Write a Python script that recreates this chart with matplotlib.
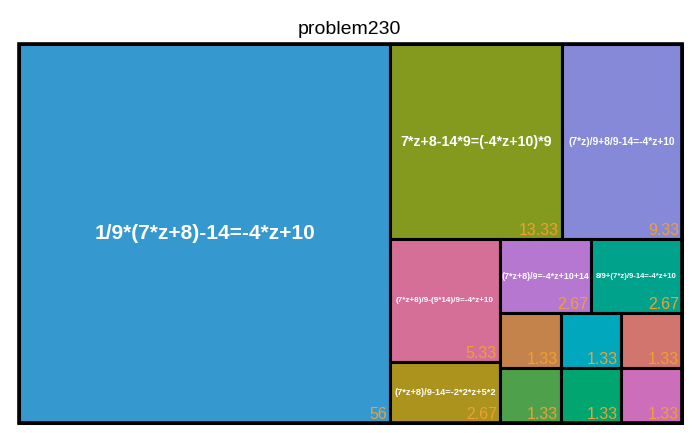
import matplotlib
matplotlib.use("Agg")
import matplotlib.pyplot as plt
from matplotlib.patches import Rectangle

plt.rcParams["font.family"] = ["Liberation Sans", "DejaVu Sans"]

# values
labels = [
    "1/9*(7*z+8)-14=-4*z+10",
    "7*z+8-14*9=(-4*z+10)*9",
    "(7*z)/9+8/9-14=-4*z+10",
    "(7*z+8)/9-(9*14)/9=-4*z+10",
    "(7*z+8)/9-14=-2*2*z+5*2",
    "(7*z+8)/9=-4*z+10+14",
    "8/9+(7*z)/9-14=-4*z+10",
    "", "", "", "", "", "",
]
values = [56, 13.33, 9.33, 5.33, 2.67, 2.67, 2.67, 1.33, 1.33, 1.33, 1.33, 1.33, 1.33]
value_text = ["56", "13.33", "9.33", "5.33", "2.67", "2.67", "2.67",
              "1.33", "1.33", "1.33", "1.33", "1.33", "1.33"]

colors = ["#3598CE", "#839A1F", "#8589D7", "#D56F97", "#AC931E", "#B677D1",
          "#00A28C", "#C4834A", "#4FA04A", "#00A7BD", "#00A56F", "#D2756F", "#CC6EBA"]
label_sizes = [15, 10.2, 7.4, 5.9, 6.7, 6.4, 5.6, 0, 0, 0, 0, 0, 0]

W, H = 663.0, 379.0


def worst(row, short):
    s = sum(row)
    return max(max(short * short * r / (s * s), (s * s) / (short * short * r)) for r in row)


def squarify(sizes, x, y, w, h):
    rects = []
    sizes = list(sizes)
    while sizes:
        short = min(w, h)
        row = [sizes[0]]
        i = 1
        while i < len(sizes) and worst(row + [sizes[i]], short) <= worst(row, short):
            row.append(sizes[i])
            i += 1
        s = sum(row)
        if w >= h:
            cw = s / h
            yy = y
            for a in row:
                rh = a / cw
                rects.append((x, yy, cw, rh))
                yy += rh
            x += cw
            w -= cw
        else:
            rh = s / w
            xx = x
            for a in row:
                rw = a / rh
                rects.append((xx, y, rw, rh))
                xx += rw
            y += rh
            h -= rh
        sizes = sizes[i:]
    return rects


total = sum(values)
areas = [v / total * W * H for v in values]
rects = squarify(areas, 0, 0, W, H)

fig = plt.figure(figsize=(7, 4.33), dpi=100)
ax = fig.add_axes([19 / 700, 10 / 433, 663 / 700, 379 / 433])
ax.set_xlim(0, W)
ax.set_ylim(H, 0)
ax.axis("off")

for (x, y, w, h), c, lab, vt, fs in zip(rects, colors, labels, value_text, label_sizes):
    ax.add_patch(Rectangle((x, y), w, h, facecolor=c, edgecolor="black",
                           linewidth=2.2, clip_on=False))
    if lab:
        ax.text(x + w / 2, y + h / 2, lab, ha="center", va="center",
                color="white", fontsize=fs, fontweight="bold")
    ax.text(x + w - 3, y + h - 1, vt, ha="right", va="bottom",
            color="#F0A030", fontsize=11.5)

ax.add_patch(Rectangle((0, 0), W, H, facecolor="none", edgecolor="black",
                       linewidth=2.6, clip_on=False))

fig.text(349 / 700, 1 - 29 / 433, "problem230", ha="center", va="center", fontsize=14)

fig.savefig("out.png", dpi=100)
